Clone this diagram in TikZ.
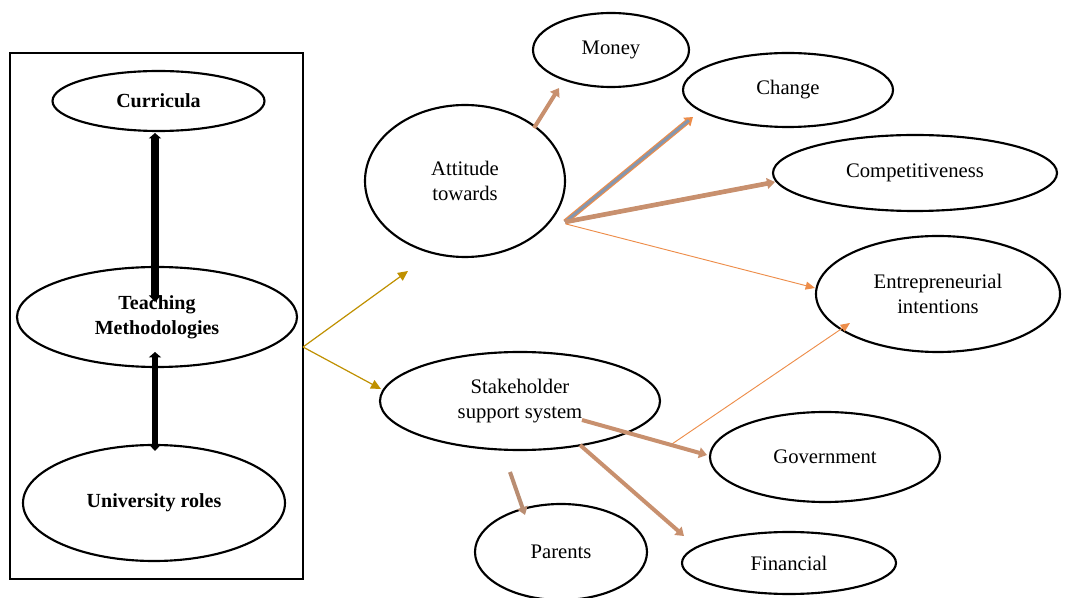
\documentclass[tikz,border=0pt]{standalone}
\usepackage{fontspec}
\setmainfont{Liberation Serif}
\usetikzlibrary{shapes.geometric,arrows.meta}
\definecolor{olive}{HTML}{BF9000}
\definecolor{tan}{HTML}{C8906E}
\definecolor{orng}{HTML}{ED8D4A}
\definecolor{bgrey}{HTML}{8497B0}
\begin{document}
\begin{tikzpicture}[x=0.75pt,y=-0.75pt,
  ell/.style={ellipse,draw=black,line width=1.6pt,inner sep=0pt,align=center,
    font=\fontsize{15.5}{19}\selectfont},
  bell/.style={ell,font=\fontsize{15}{19}\selectfont\bfseries},
  olivearrow/.style={draw=olive,line width=0.9pt,-{Triangle[length=7.5pt,width=7pt]}},
  tanarrow/.style={draw=tan,line width=3pt,-{Triangle[length=6pt,width=8pt]}},
  thinarrow/.style={draw=orng,line width=0.7pt,-{Triangle[length=7pt,width=6pt]}},
  blackarrow/.style={draw=black,line width=#1,{Triangle[length=4pt,width=9pt]}-{Triangle[length=5pt,width=9pt]}},
]
\useasboundingbox (0,0) rectangle (1068,598);
% left box
\node[draw=black,line width=1.5pt,minimum width=219.75pt,minimum height=394.5pt,inner sep=0pt] (box) at (156.5,316) {};
\node[bell,minimum width=159pt,minimum height=45pt] (curr) at (158.5,101) {Curricula};
\node[bell,minimum width=210pt,minimum height=75pt] (teach) at (157,317) {Teaching\\Methodologies};
\node[bell,minimum width=196.5pt,minimum height=87pt] (univ) at (154,503) {University roles};
% right nodes
\node[ell,minimum width=150pt,minimum height=114pt] (att) at (465,181) {Attitude\\towards};
\node[ell,minimum width=117pt,minimum height=55.5pt] (money) at (611,50) {Money};
\node[ell,minimum width=157.5pt,minimum height=55.5pt] (change) at (788,90) {Change};
\node[ell,minimum width=213pt,minimum height=57pt] (comp) at (915,173) {Competitiveness};
\node[ell,minimum width=183pt,minimum height=87pt] (entre) at (938,294) {Entrepreneurial\\intentions};
\node[ell,minimum width=210pt,minimum height=73.5pt] (stake) at (520,401) {Stakeholder\\support system};
\node[ell,minimum width=172.5pt,minimum height=67.5pt] (gov) at (825,457) {Government};
\node[ell,minimum width=129pt,minimum height=72pt] (par) at (561,552) {Parents};
\node[ell,minimum width=160.5pt,minimum height=46.5pt] (fin) at (789,563) {Financial};
% anchor coordinates
\coordinate (bo) at (303,347);
\coordinate (oa) at (408,271);
\coordinate (os) at (381,389);
\coordinate (am) at (534,128);
\coordinate (mt) at (559,88);
\coordinate (ao) at (565,222);
\coordinate (ct) at (693,117);
\coordinate (cpt) at (775,182);
\coordinate (ao2) at (566,224);
\coordinate (et) at (815,288);
\coordinate (gs) at (672,444);
\coordinate (et2) at (850,323);
\coordinate (sg) at (582,420);
\coordinate (gt) at (707,455);
\coordinate (sp) at (510,472);
\coordinate (pt) at (525,515);
\coordinate (sf) at (580,445);
\coordinate (ft) at (684,536);
\coordinate (c1) at (155,133);
\coordinate (t1) at (155,302);
\coordinate (t2) at (155,352);
\coordinate (u1) at (155,451);
% black arrows
\draw[blackarrow=6pt] (c1) -- (t1);
\draw[blackarrow=4pt] (t2) -- (u1);
% olive arrows
\draw[olivearrow] (bo) -- (oa);
\draw[olivearrow] (bo) -- (os);
% attitude arrows
\draw[tanarrow] (am) -- (mt);
\draw[draw=orng,line width=4pt,-{Triangle[length=6pt,width=8pt]}] (ao) -- (ct);
\draw[draw=bgrey,line width=2.2pt,shorten >=4pt] (ao) -- (ct);
\draw[tanarrow,line width=3.5pt] (ao) -- (cpt);
\draw[thinarrow] (ao2) -- (et);
% stakeholder arrows
\draw[thinarrow] (gs) -- (et2);
\draw[tanarrow] (sg) -- (gt);
\draw[tanarrow,draw=tan!80!gray] (sp) -- (pt);
\draw[tanarrow] (sf) -- (ft);
\end{tikzpicture}
\end{document}
